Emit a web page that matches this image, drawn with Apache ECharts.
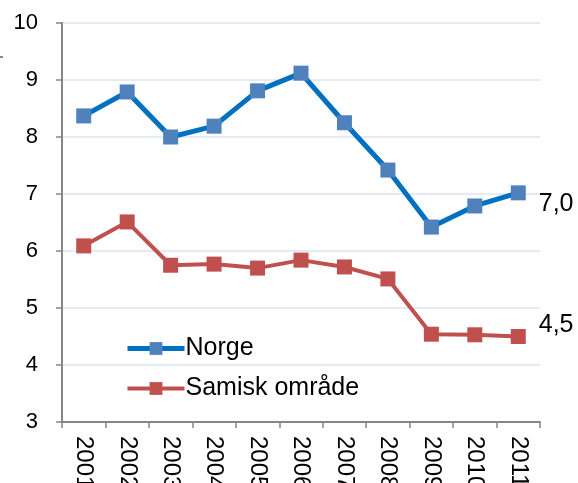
<!DOCTYPE html>
<html><head><meta charset="utf-8">
<script src="https://cdn.jsdelivr.net/npm/echarts@6/dist/echarts.min.js"></script>
<style>html,body{margin:0;padding:0;background:#fff}#c{width:578px;height:483px}</style>
</head><body><div id="c"></div>
<script>
const years = ['2001','2002','2003','2004','2005','2006','2007','2008','2009','2010','2011'];
const norge = [8.37, 8.79, 8.0, 8.19, 8.81, 9.12, 8.25, 7.42, 6.42, 6.79, 7.02];
const samisk = [6.09, 6.51, 5.75, 5.77, 5.70, 5.84, 5.72, 5.51, 4.54, 4.53, 4.50];
const yTicks = [3, 4, 5, 6, 7, 8, 9, 10];

const FONT = 'Liberation Sans, Arial, sans-serif';
const fmt = v => v.toFixed(1).replace('.', ',');
function withEndLabel(arr, offset) {
  return arr.map((v, i) => i === arr.length - 1 ? {
    value: v,
    label: { show: true, position: 'right', offset: offset, formatter: p => fmt(p.value),
      fontSize: 25, color: '#000', fontFamily: FONT }
  } : v);
}
const chart = echarts.init(document.getElementById('c'), null, {renderer: 'canvas'});
chart.setOption({
  animation: false,
  grid: { left: 62, right: 38, top: 23, bottom: 61, containLabel: false, outerBoundsMode: 'none' },
  legend: {
    orient: 'vertical', left: 120, top: 331, itemGap: 15,
    itemWidth: 57, itemHeight: 16,
    lineStyle: { width: 'inherit' },
    textStyle: { fontSize: 25, color: '#000', fontFamily: FONT, padding: [0,0,0,-4] },
    data: ['Norge', 'Samisk område']
  },
  xAxis: {
    type: 'category', data: years, boundaryGap: true,
    axisLine: { lineStyle: { color: '#868686', width: 2 } },
    axisTick: { show: true, length: 6, lineStyle: { color: '#868686', width: 1.5 } },
    axisLabel: { rotate: -90, margin: 14, fontSize: 24, color: '#000',
      fontFamily: FONT, interval: 0 }
  },
  yAxis: {
    type: 'value', min: yTicks[0], max: yTicks[yTicks.length - 1], interval: 1,
    axisLine: { show: true, lineStyle: { color: '#868686', width: 2 } },
    axisTick: { show: true, length: 6, lineStyle: { color: '#868686', width: 1.5 } },
    axisLabel: { fontSize: 22, color: '#000', margin: 24, fontFamily: FONT },
    splitLine: { lineStyle: { color: '#DCE5F2', width: 1.5 } }
  },
  series: [
    { name: 'Norge', type: 'line', data: withEndLabel(norge, [8, 11]),
      symbol: 'rect', symbolSize: 15,
      lineStyle: { color: '#0070C0', width: 5 },
      itemStyle: { color: '#4F81BD', borderWidth: 0 } },
    { name: 'Samisk område', type: 'line', data: withEndLabel(samisk, [8, -11]),
      symbol: 'rect', symbolSize: 15,
      lineStyle: { color: '#C0504D', width: 4 },
      itemStyle: { color: '#C0504D', borderWidth: 0 } }
  ],
  graphic: [{ type: 'rect', shape: { x: 0, y: 56, width: 3, height: 2 }, style: { fill: '#888' } }]
});
</script></body></html>
